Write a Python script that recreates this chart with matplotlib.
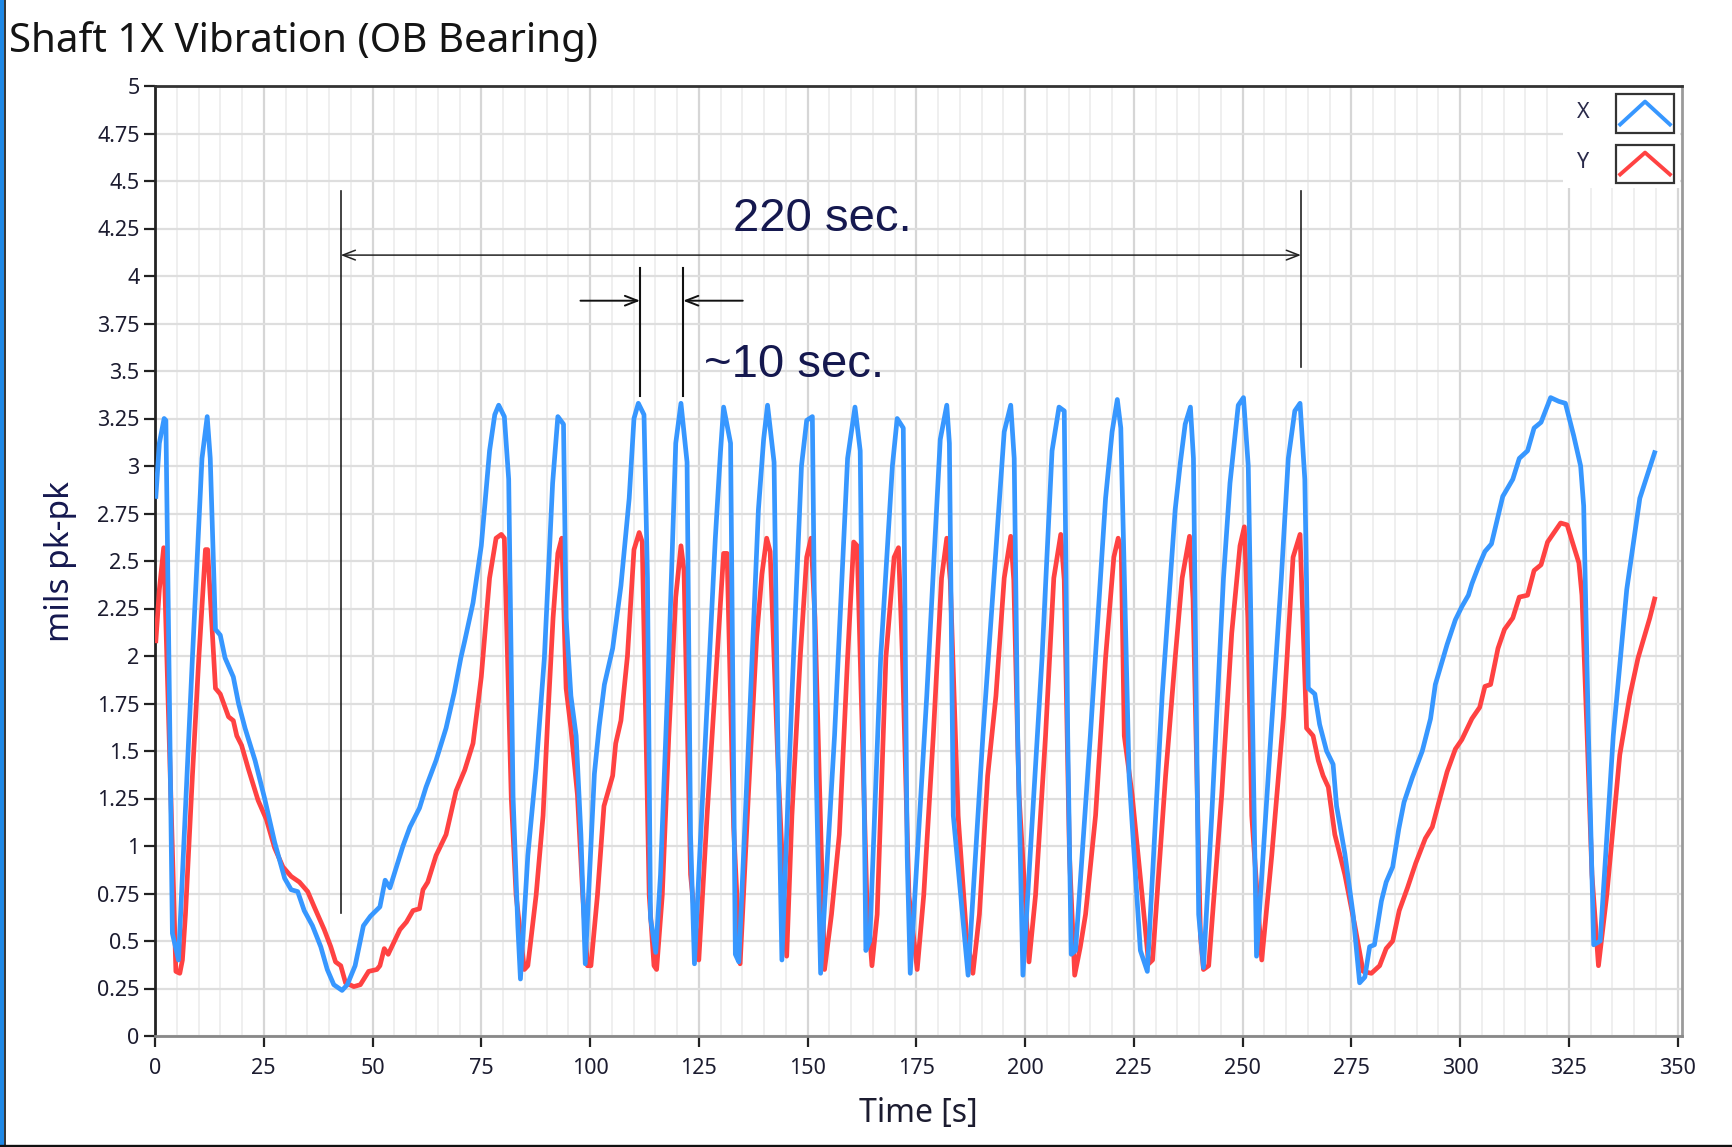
import matplotlib
matplotlib.use("Agg")
import matplotlib.pyplot as plt
from matplotlib.patches import Rectangle
from matplotlib.lines import Line2D
import numpy as np

# ---------------- data ----------------
x_time = [0.2, 1, 2.1, 2.5, 4.0, 5.4, 8.6, 10.8, 12, 12.7, 13.9, 15, 16.1, 18, 19.2, 20.7, 23, 25.2,
          27.5, 29.8, 31.3, 32.8, 34.3, 36.2, 38.1, 39.6, 41.1, 43.0, 44.2, 46.0, 47.9, 49.5, 51.7,
          52.9, 54, 57, 58.6, 60.8, 62.3, 64.6, 66.9, 68.8, 70.3, 71.2, 73.1, 75, 76.9, 78.1, 79,
          80.3, 81.3, 82.3, 83.4, 84, 85.7, 87.6, 89.5, 91.4, 92.6, 93.9, 94.5, 95.6, 96.8, 97.9,
          98.9, 101, 102.1, 103.3, 105.2, 107.1, 109, 110.1, 111.1, 112.4, 113.2, 113.9, 115.1,
          116.2, 118.1, 119.7, 120.9, 122.3, 123.1, 124, 126.1, 128.8, 130, 130.7, 132.3, 133.4,
          134.2, 136.5, 138.7, 139.9, 140.8, 142.3, 143.2, 144.1, 146.4, 148.6, 149.8, 151.1, 152,
          153, 156.2, 159.2, 160.9, 162.1, 163.4, 164.3, 166.8, 169.5, 170.6, 172, 172.9, 173.6,
          177.4, 180.5, 182, 182.6, 183.5, 186.9, 190.3, 195.2, 196.7, 197.5, 198.3, 199.5, 203.9,
          206.2, 207.8, 209, 209.8, 210.6, 211.6, 215, 218.5, 220, 221.2, 222, 223.9, 226.5, 228.1,
          231.5, 234.5, 235.7, 236.8, 238, 238.7, 239.9, 241, 242.9, 245.6, 247.1, 249, 250.2,
          251.3, 253.2, 255.9, 258.9, 260.5, 262, 263.2, 264.3, 265.1, 266.6, 267.7, 269.3, 270.8,
          271.6, 273.5, 275.4, 276.9, 278.1, 279.2, 280.3, 281.9, 283, 284.5, 285.9, 287.1, 289,
          291.3, 293.2, 294.3, 297, 298.9, 300.4, 301.9, 302.7, 304.2, 305.7, 307.2, 309.8, 312.1,
          313.6, 315.5, 317, 318.6, 320.8, 322.7, 324.2, 326.1, 327.7, 328.4, 329.5, 330.7, 332.2,
          335.2, 338.3, 341.3, 344.7]
x_vals = [2.84, 3.12, 3.25, 3.24, 0.54, 0.40, 1.99, 3.04, 3.26, 3.04, 2.14, 2.11, 1.99, 1.89, 1.75,
          1.62, 1.45, 1.25, 1.02, 0.83, 0.77, 0.76, 0.66, 0.58, 0.47, 0.35, 0.27, 0.24, 0.27, 0.37,
          0.58, 0.63, 0.68, 0.82, 0.78, 1.00, 1.10, 1.20, 1.31, 1.45, 1.62, 1.81, 1.99, 2.08, 2.28,
          2.58, 3.08, 3.27, 3.32, 3.26, 2.93, 1.26, 0.58, 0.30, 0.95, 1.41, 1.99, 2.91, 3.26, 3.22,
          2.20, 1.79, 1.58, 1.06, 0.38, 1.38, 1.63, 1.85, 2.04, 2.37, 2.83, 3.25, 3.33, 3.27, 2.41,
          0.62, 0.44, 0.85, 1.99, 3.12, 3.33, 3.02, 1.06, 0.38, 1.37, 2.62, 3.08, 3.31, 3.12, 0.43,
          0.39, 1.58, 2.77, 3.14, 3.32, 3.02, 1.50, 0.40, 1.79, 3.00, 3.24, 3.26, 1.37, 0.33, 1.58,
          3.04, 3.31, 3.08, 0.45, 0.50, 1.99, 3.00, 3.25, 3.20, 0.95, 0.33, 1.79, 3.14, 3.32, 3.12,
          1.16, 0.32, 1.58, 3.18, 3.32, 3.04, 1.58, 0.32, 1.99, 3.08, 3.31, 3.29, 1.58, 0.43, 0.45,
          1.58, 2.83, 3.18, 3.35, 3.20, 1.37, 0.45, 0.34, 1.79, 2.77, 3.02, 3.22, 3.31, 3.04, 0.64,
          0.36, 1.16, 2.41, 2.91, 3.32, 3.36, 3.00, 0.42, 1.37, 2.41, 3.04, 3.29, 3.33, 2.93, 1.83,
          1.80, 1.64, 1.50, 1.43, 1.21, 0.96, 0.64, 0.28, 0.31, 0.47, 0.48, 0.71, 0.81, 0.89, 1.09,
          1.23, 1.36, 1.50, 1.67, 1.85, 2.06, 2.19, 2.26, 2.32, 2.38, 2.47, 2.55, 2.59, 2.84, 2.93,
          3.04, 3.08, 3.20, 3.23, 3.36, 3.34, 3.33, 3.16, 3.00, 2.79, 1.58, 0.48, 0.50, 1.58, 2.35,
          2.83, 3.07]

y_time = [0.2, 1, 2, 4.8, 5.7, 6.3, 7, 8.6, 10.1, 11.6, 12.1, 13.9, 15, 16.9, 18, 18.8, 19.9, 21.4,
          23.7, 25.6, 27.5, 29.4, 31.3, 33.2, 35.1, 36.6, 38.9, 40.4, 41.5, 42.7, 43.8, 45.7, 47.2,
          49.1, 51, 51.7, 52.7, 53.6, 56.3, 57.8, 59.3, 60.8, 61.6, 62.7, 64.6, 66.9, 69.2, 71.2,
          73.1, 75, 76.9, 78.4, 79.6, 80.3, 81.9, 83, 84.9, 85.7, 87.6, 89.2, 90.3, 91.5, 92.6,
          93.5, 94.5, 95.6, 97.1, 98.3, 99.4, 100.2, 101.7, 103.2, 105.2, 105.9, 107.1, 108.6,
          110.1, 111.3, 112, 113.6, 114.7, 115.3, 116.6, 118.1, 119.7, 120.9, 121.6, 123.1, 125,
          126.9, 129.2, 130.7, 131.5, 133, 134.5, 136.4, 138.3, 139.5, 140.6, 141.4, 143.3, 145.2,
          146.4, 148.3, 149.8, 150.8, 151.7, 153.9, 155.5, 157.3, 159.2, 160.6, 161.4, 163.6,
          164.8, 166, 168, 169.9, 170.9, 171.8, 173.3, 175.2, 176.7, 178.9, 180.8, 182, 182.8,
          184.6, 186.5, 188, 189.5, 191.4, 193.3, 195.2, 196.7, 197.4, 198.6, 200.9, 202.4, 204.7,
          206.6, 208.2, 209, 210.2, 211.4, 212.7, 213.9, 216.2, 218.5, 220.4, 221.4, 222.1, 222.8,
          224.6, 226.9, 228.4, 229.3, 232.3, 234.5, 236.1, 237.8, 238.6, 240.3, 241, 242.2, 245.2,
          247.5, 249.4, 250.4, 251.2, 252.1, 254.4, 256.7, 259.4, 261.6, 263.2, 264.7, 266.2,
          267.4, 268.5, 269.7, 271.2, 273.5, 275.8, 277.7, 279.6, 281.5, 283, 284.5, 286, 287.9,
          289.8, 292, 293.6, 295.1, 297, 298.9, 300.4, 302.7, 304.5, 305.7, 307, 308.7, 310.2,
          312.1, 313.6, 315.5, 317, 318.6, 320.1, 321.6, 323.1, 324.6, 325.8, 327.3, 328, 329.2,
          330.3, 331.8, 333.7, 336.7, 339, 340.9, 343.6, 344.7]
y_vals = [2.08, 2.35, 2.57, 0.34, 0.33, 0.40, 0.64, 1.37, 2.00, 2.56, 2.56, 1.83, 1.80, 1.68, 1.66,
          1.58, 1.53, 1.41, 1.24, 1.14, 0.99, 0.89, 0.84, 0.81, 0.76, 0.68, 0.56, 0.47, 0.39, 0.37,
          0.28, 0.26, 0.27, 0.34, 0.35, 0.37, 0.46, 0.43, 0.56, 0.60, 0.66, 0.67, 0.77, 0.81, 0.95,
          1.06, 1.29, 1.40, 1.54, 1.89, 2.41, 2.62, 2.64, 2.62, 1.25, 0.74, 0.35, 0.37, 0.74, 1.16,
          1.68, 2.20, 2.54, 2.62, 1.83, 1.62, 1.27, 0.75, 0.37, 0.37, 0.74, 1.21, 1.37, 1.54, 1.66,
          2.00, 2.56, 2.65, 2.60, 0.74, 0.37, 0.35, 0.74, 1.58, 2.31, 2.58, 2.45, 0.85, 0.40, 1.16,
          2.00, 2.54, 2.54, 1.10, 0.38, 1.27, 2.10, 2.43, 2.62, 2.55, 1.37, 0.42, 1.16, 1.99, 2.52,
          2.62, 2.20, 0.35, 0.64, 1.06, 1.99, 2.60, 2.58, 0.74, 0.37, 0.64, 1.99, 2.52, 2.57, 2.00,
          0.74, 0.35, 0.74, 1.58, 2.41, 2.62, 2.40, 1.16, 0.54, 0.33, 0.64, 1.37, 1.79, 2.41, 2.63,
          2.40, 1.27, 0.39, 0.74, 1.58, 2.41, 2.64, 2.40, 0.95, 0.32, 0.47, 0.64, 1.16, 1.99, 2.52,
          2.62, 2.56, 1.58, 1.27, 0.74, 0.38, 0.40, 1.37, 1.99, 2.41, 2.63, 2.30, 0.53, 0.35, 0.37,
          1.27, 2.12, 2.58, 2.68, 2.20, 1.16, 0.40, 0.95, 1.68, 2.52, 2.64, 1.62, 1.58, 1.45, 1.37,
          1.31, 1.06, 0.85, 0.58, 0.34, 0.33, 0.37, 0.46, 0.50, 0.66, 0.78, 0.91, 1.04, 1.10, 1.23,
          1.39, 1.51, 1.56, 1.67, 1.73, 1.84, 1.85, 2.04, 2.14, 2.20, 2.31, 2.32, 2.45, 2.48, 2.60,
          2.65, 2.70, 2.69, 2.60, 2.49, 2.32, 1.58, 0.85, 0.37, 0.74, 1.48, 1.79, 1.99, 2.20, 2.30]

x_ticks = [0, 25, 50, 75, 100, 125, 150, 175, 200, 225, 250, 275, 300, 325, 350]
y_ticks = [0, 0.25, 0.5, 0.75, 1, 1.25, 1.5, 1.75, 2, 2.25, 2.5, 2.75, 3, 3.25, 3.5, 3.75,
           4, 4.25, 4.5, 4.75, 5]
y_tick_labels = ["0", "0.25", "0.5", "0.75", "1", "1.25", "1.5", "1.75", "2", "2.25", "2.5",
                 "2.75", "3", "3.25", "3.5", "3.75", "4", "4.25", "4.5", "4.75", "5"]

title = "Shaft 1X Vibration (OB Bearing)"
x_label = "Time [s]"
y_label = "mils pk-pk"
series_names = ["X", "Y"]

# annotation geometry (data units)
long_span = [42.7, 263.4]
long_arrow_y = 4.11
long_text = "220 sec."
short_span = [111.5, 121.4]
short_arrow_y = 3.87
short_text = "~10 sec."

BLUE = "#3797FF"
RED = "#FF4242"
NAVY = "#15184F"
TXT = "#1c1c30"

plt.rcParams['font.family'] = ['Noto Sans', 'DejaVu Sans']

W, H = 1733, 1147
fig = plt.figure(figsize=(W / 100, H / 100), dpi=100)
fig.patch.set_facecolor("white")

L, R, T, B = 155, 1682, 86, 1036
ax = fig.add_axes([L / W, 1 - B / H, (R - L) / W, (B - T) / H])
ax.set_xlim(0, 351)
ax.set_ylim(0, 5)

# grid
ax.set_xticks(x_ticks)
ax.set_xticks(np.arange(0, 351, 5), minor=True)
ax.set_yticks(y_ticks)
ax.set_yticklabels(y_tick_labels)
ax.grid(which="minor", axis="x", color="#eeeeee", lw=1.3)
ax.grid(which="major", axis="x", color="#d6d6d6", lw=1.6)
ax.grid(which="major", axis="y", color="#dedede", lw=1.6)
ax.set_axisbelow(True)
ax.tick_params(axis="both", which="minor", length=0)
ax.tick_params(axis="y", which="major", length=8, width=1.6, color="#222",
               labelsize=15.5, labelcolor=TXT, pad=3)
ax.tick_params(axis="x", which="major", length=8, width=1.6, color="#222",
               labelsize=15.5, labelcolor=TXT, pad=8)

for side, c in [("left", "#222222"), ("top", "#333333"), ("right", "#9a9a9a"), ("bottom", "#888888")]:
    ax.spines[side].set_color(c)
    ax.spines[side].set_linewidth(2)

# data lines
ax.plot(y_time, y_vals, color=RED, lw=3.4, solid_joinstyle="round", zorder=3)
ax.plot(x_time, x_vals, color=BLUE, lw=3.4, solid_joinstyle="round", zorder=4)

# annotations
lc = "#222222"
ax.plot([long_span[0]] * 2, [0.65, 4.45], color=lc, lw=1.2, zorder=5)
ax.plot([long_span[1]] * 2, [3.52, 4.45], color=lc, lw=1.2, zorder=5)
ax.annotate("", xy=(long_span[1], long_arrow_y), xytext=(long_span[0], long_arrow_y),
            arrowprops=dict(arrowstyle="<->,head_length=0.9,head_width=0.35", color=lc, lw=1.1,
                            shrinkA=0, shrinkB=0), zorder=5)
ax.text(153.4, 4.30, long_text, fontsize=34, color=NAVY, ha="center", va="center",
        family=["Liberation Sans", "DejaVu Sans"], zorder=6)

for xs in short_span:
    ax.plot([xs, xs], [3.37, 4.04], color="#111111", lw=1.5, zorder=5)
ax.annotate("", xy=(short_span[0], short_arrow_y), xytext=(97.8, short_arrow_y),
            arrowprops=dict(arrowstyle="->,head_length=0.9,head_width=0.35", color="#111", lw=1.4,
                            shrinkA=0, shrinkB=0), zorder=5)
ax.annotate("", xy=(short_span[1], short_arrow_y), xytext=(135.1, short_arrow_y),
            arrowprops=dict(arrowstyle="->,head_length=0.9,head_width=0.35", color="#111", lw=1.4,
                            shrinkA=0, shrinkB=0), zorder=5)
ax.text(146.8, 3.53, short_text, fontsize=34, color=NAVY, ha="center", va="center",
        family=["Liberation Sans", "DejaVu Sans"], zorder=6)

# legend (drawn manually, axes fraction)
ax.add_patch(Rectangle((0.922, 0.893), 0.077, 0.105, transform=ax.transAxes,
                       facecolor="white", edgecolor="none", zorder=7))
boxes = [(0.9505, 0.9916), (0.8979, 0.9379)]
text_y = [0.9716, 0.9195]
for (b0, b1), ty, name, col in zip(boxes, text_y, series_names, [BLUE, RED]):
    ax.add_patch(Rectangle((0.9568, b0), 0.038, b1 - b0, transform=ax.transAxes,
                           facecolor="white", edgecolor="#333333", lw=1.6, zorder=8))
    ax.add_line(Line2D([0.9595, 0.9758, 0.9921], [b0 + 0.009, b1 - 0.008, b0 + 0.009],
                       transform=ax.transAxes, color=col, lw=2.8, zorder=9))
    ax.text(0.935, ty, name, transform=ax.transAxes, fontsize=15.5, color="#2a2a4a",
            ha="center", va="center", zorder=9)

# labels
ax.set_xlabel(x_label, fontsize=23, color=TXT, va="center")
ax.xaxis.set_label_coords(0.5, -0.082)
ax.set_ylabel(y_label, fontsize=24, color=NAVY, va="center")
ax.yaxis.set_label_coords(-0.0616, 0.5)

fig.text(9 / W, 1 - 52 / H, title, fontsize=29, color="#141414", ha="left", va="baseline")

# frame of the screenshot
fig.add_artist(Rectangle((0, 0), 4 / W, 1, transform=fig.transFigure,
                         facecolor="#1E88E5", edgecolor="none"))
fig.add_artist(Line2D([4.5 / W, 4.5 / W], [0, 1], transform=fig.transFigure, color="#111", lw=1.2))
fig.add_artist(Line2D([0, 1], [1.5 / H, 1.5 / H], transform=fig.transFigure, color="#111", lw=2.4))

fig.savefig("out.png", dpi=100)
